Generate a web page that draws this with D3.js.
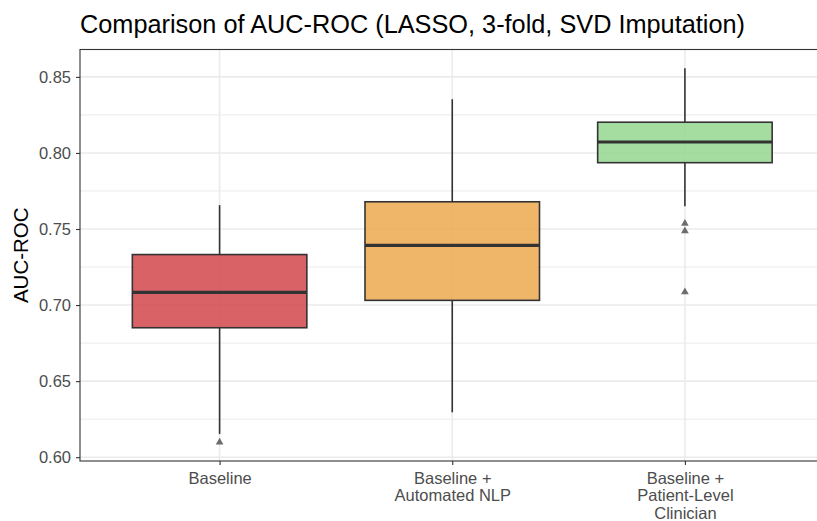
<!DOCTYPE html>
<html>
<head>
<meta charset="utf-8">
<script src="https://cdn.jsdelivr.net/npm/d3@7"></script>
<style>
  body { margin: 0; background: #fff; }
  svg { display: block; font-family: "Liberation Sans", Arial, sans-serif; }
</style>
</head>
<body>
<svg id="chart" width="817" height="521"></svg>
<script>
// data
const categories = ['Baseline', 'Baseline + Automated NLP', 'Baseline + Patient-Level Clinician'];
const labelLines = [['Baseline'], ['Baseline +', 'Automated NLP'], ['Baseline +', 'Patient-Level', 'Clinician']];
const whiskerLow = [0.6153, 0.6295, 0.7650];
const q1 = [0.6851, 0.7031, 0.7936];
const medians = [0.7084, 0.7393, 0.8072];
const q3 = [0.7332, 0.7679, 0.8202];
const whiskerHigh = [0.7657, 0.8353, 0.8557];
const outliers = [[0.6098], [], [0.7536, 0.7487, 0.7086]];
const fills = ['#d2474b', '#eca950', '#95d68f'];
const yTicks = [0.60, 0.65, 0.70, 0.75, 0.80, 0.85];
const yMinor = [0.625, 0.675, 0.725, 0.775, 0.825];

const svg = d3.select('#chart');
const panel = { left: 80, top: 49.5, right: 824.5, bottom: 461 };

const x = d3.scalePoint()
  .domain(categories)
  .range([panel.left, panel.right])
  .padding(0.6);
const step = x.step();
const boxW = step * 0.75;

const y = d3.scaleLinear()
  .domain([0.5975, 0.868])
  .range([panel.bottom, panel.top]);

// title
svg.append('text')
  .attr('x', 80)
  .attr('y', 33)
  .attr('font-size', 25.3)
  .attr('fill', '#000')
  .text('Comparison of AUC-ROC (LASSO, 3-fold, SVD Imputation)');

// grid
const grid = svg.append('g');
grid.selectAll('line.minor')
  .data(yMinor)
  .enter()
  .append('line')
  .attr('x1', panel.left).attr('x2', panel.right)
  .attr('y1', (d) => y(d)).attr('y2', (d) => y(d))
  .attr('stroke', '#ebebeb').attr('stroke-width', 1);
grid.selectAll('line.major')
  .data(yTicks)
  .enter()
  .append('line')
  .attr('x1', panel.left).attr('x2', panel.right)
  .attr('y1', (d) => y(d)).attr('y2', (d) => y(d))
  .attr('stroke', '#ebebeb').attr('stroke-width', 1.6);
grid.selectAll('line.vx')
  .data(categories)
  .enter()
  .append('line')
  .attr('x1', (d) => x(d)).attr('x2', (d) => x(d))
  .attr('y1', panel.top).attr('y2', panel.bottom)
  .attr('stroke', '#ebebeb').attr('stroke-width', 1.6);

// boxes
const boxes = svg.append('g')
  .selectAll('g')
  .data(categories)
  .enter()
  .append('g');

boxes.append('line')
  .attr('x1', (d) => x(d)).attr('x2', (d) => x(d))
  .attr('y1', (d, i) => y(whiskerHigh[i])).attr('y2', (d, i) => y(q3[i]))
  .attr('stroke', '#333').attr('stroke-width', 1.6);
boxes.append('line')
  .attr('x1', (d) => x(d)).attr('x2', (d) => x(d))
  .attr('y1', (d, i) => y(q1[i])).attr('y2', (d, i) => y(whiskerLow[i]))
  .attr('stroke', '#333').attr('stroke-width', 1.6);
boxes.append('rect')
  .attr('x', (d) => x(d) - boxW / 2)
  .attr('width', boxW)
  .attr('y', (d, i) => y(q3[i]))
  .attr('height', (d, i) => y(q1[i]) - y(q3[i]))
  .attr('fill', (d, i) => fills[i])
  .attr('fill-opacity', 0.85)
  .attr('stroke', '#333').attr('stroke-width', 1.6);
boxes.append('line')
  .attr('x1', (d) => x(d) - boxW / 2).attr('x2', (d) => x(d) + boxW / 2)
  .attr('y1', (d, i) => y(medians[i])).attr('y2', (d, i) => y(medians[i]))
  .attr('stroke', '#333').attr('stroke-width', 3.2);

// outliers
const tri = d3.symbol().type(d3.symbolTriangle).size(26);
boxes.each(function (d, i) {
  d3.select(this).selectAll('path')
    .data(outliers[i])
    .enter()
    .append('path')
    .attr('d', tri)
    .attr('transform', (v) => `translate(${x(d)},${y(v)})`)
    .attr('fill', '#555')
    .attr('fill-opacity', 0.85);
});

// panel border
svg.append('rect')
  .attr('x', panel.left).attr('y', panel.top)
  .attr('width', panel.right - panel.left)
  .attr('height', panel.bottom - panel.top)
  .attr('fill', 'none')
  .attr('stroke', '#333').attr('stroke-width', 1.1);

// y axis
const yAxis = svg.append('g')
  .attr('transform', `translate(${panel.left},0)`)
  .call(d3.axisLeft(y).tickValues(yTicks).tickFormat(d3.format('.2f')).tickSize(4).tickPadding(5));
yAxis.select('.domain').remove();
yAxis.selectAll('.tick line').attr('stroke', '#333').attr('stroke-width', 1.1);
yAxis.selectAll('.tick text')
  .attr('font-size', 16.5)
  .attr('fill', '#4d4d4d')
  .attr('font-family', '"Liberation Sans", Arial, sans-serif');

// x axis
const xAxis = svg.append('g')
  .attr('transform', `translate(0,${panel.bottom})`)
  .call(d3.axisBottom(x).tickSize(4).tickFormat(''));
xAxis.select('.domain').remove();
xAxis.selectAll('.tick line').attr('stroke', '#333').attr('stroke-width', 1.1);
xAxis.selectAll('.tick').each(function (d, i) {
  const t = d3.select(this).append('text')
    .attr('text-anchor', 'middle')
    .attr('font-size', 16.5)
    .attr('fill', '#4d4d4d')
    .attr('font-family', '"Liberation Sans", Arial, sans-serif');
  labelLines[i].forEach((line, k) => {
    t.append('tspan').attr('x', 0).attr('y', 22.5 + k * 17.5).text(line);
  });
});

// y title
svg.append('text')
  .attr('transform', `translate(28,${(panel.top + panel.bottom) / 2}) rotate(-90)`)
  .attr('text-anchor', 'middle')
  .attr('font-size', 20.5)
  .attr('fill', '#000')
  .text('AUC-ROC');
</script>
</body>
</html>
